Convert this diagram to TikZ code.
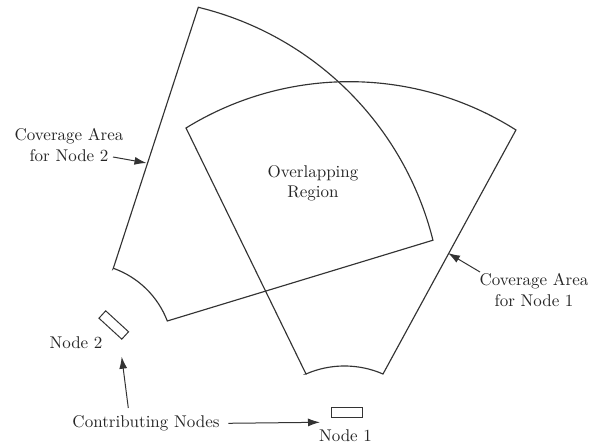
\documentclass[tikz,border=0pt]{standalone}
\usetikzlibrary{arrows.meta}
\begin{document}
\begin{tikzpicture}[x=1pt,y=1pt,
  edge/.style={draw=black!80,line width=1.15pt,line join=miter},
  unit/.style={draw=black!80,line width=1pt,minimum width=31pt,minimum height=10pt,inner sep=0pt},
  lbl/.style={text=black!85,align=center,inner sep=0pt,scale=1.7,font=\fontsize{10}{11.8}\selectfont},
  arr/.style={draw=black!80,line width=1pt,-{Latex[length=12pt,width=8pt]}}]
\useasboundingbox (0,0) rectangle (602,446);

% coverage sector of node 1
\coordinate (a1) at (306,72);
\coordinate (b1) at (186,318);
\coordinate (d1) at (383,72);
\draw[edge] (a1) -- (b1) arc[start angle=121.66,end angle=57.65,radius=311.3]
  -- (d1) arc[start angle=66.5,end angle=113.5,radius=96.6] -- cycle;

% coverage sector of node 2
\coordinate (a2) at (113.3,177.7);
\coordinate (b2) at (198.3,438.7);
\coordinate (d2) at (167.3,125);
\draw[edge] (a2) -- (b2) arc[start angle=76.39,end angle=14.03,radius=319.3]
  -- (d2) arc[start angle=20.89,end angle=70.46,radius=90] -- cycle;

% the two contributing nodes
\node[unit] (n1) at (347,33) {};
\node[unit,rotate=-42.5] (n2) at (113.75,121) {};

% labels
\node[lbl] (cov2) at (69,301) {Coverage Area\\for Node 2};
\node[lbl] (cov1) at (534,156) {Coverage Area\\for Node 1};
\node[lbl] (ovl) at (313,263) {Overlapping\\Region};
\node[lbl] (contrib) at (146,23) {Contributing Nodes};
\node[lbl] (ln2) at (76,103) {Node 2};
\node[lbl] (ln1) at (345.5,10) {Node 1};

% arrow ends
\coordinate (s2) at (113,289);
\coordinate (t2) at (146.5,283);
\coordinate (s1) at (480,174);
\coordinate (t1) at (448,193);
\coordinate (su) at (128.3,38);
\coordinate (tu) at (121.7,89.3);
\coordinate (sr) at (228.3,22.7);
\coordinate (tr) at (320,23.7);

\draw[arr] (s2) -- (t2);
\draw[arr] (s1) -- (t1);
\draw[arr] (su) -- (tu);
\draw[arr] (sr) -- (tr);
\end{tikzpicture}
\end{document}
